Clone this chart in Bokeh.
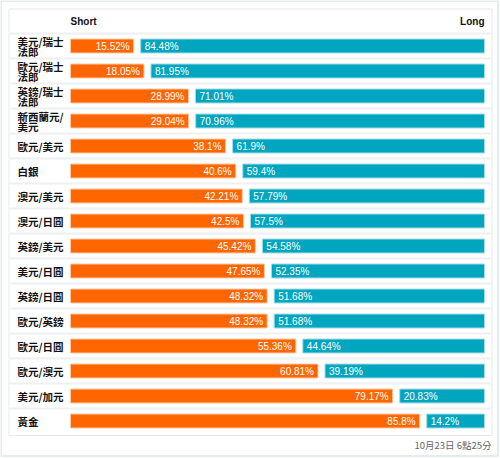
from bokeh.plotting import figure
from bokeh.models import Range1d, ColumnDataSource
from bokeh.core.properties import value
from bokeh.embed import file_html
from bokeh.resources import INLINE

# ---- data ----
labels = ["美元/瑞士\n法郎", "歐元/瑞士\n法郎", "英鎊/瑞士\n法郎", "新西蘭元/\n美元", "歐元/美元", "白銀",
          "澳元/美元", "澳元/日圓", "英鎊/美元", "美元/日圓", "英鎊/日圓", "歐元/英鎊",
          "歐元/日圓", "歐元/澳元", "美元/加元", "黃金"]
short_pct = [15.52, 18.05, 28.99, 29.04, 38.1, 40.6, 42.21, 42.5, 45.42, 47.65, 48.32, 48.32,
             55.36, 60.81, 79.17, 85.8]
long_pct = [84.48, 81.95, 71.01, 70.96, 61.9, 59.4, 57.79, 57.5, 54.58, 52.35, 51.68, 51.68,
            44.64, 39.19, 20.83, 14.2]
short_title = "Short"
long_title = "Long"
timestamp = "10月23日 6點25分"

# ---- layout (pixels) ----
W, H = 500, 458
BAR_LEFT_PX = 70
GAP_PX = 7
UNIT = 4.07           # pixels per percent point
ROW = 25.0            # pixels per row
TOP = 33.0            # pixel y of first data row


def ux(px):
    return (px - BAR_LEFT_PX) / UNIT


def uy(py):
    return (py - TOP) / ROW


gap = GAP_PX / UNIT
n = len(labels)

p = figure(width=W, height=H, output_backend="svg", toolbar_location=None,
           x_range=Range1d(ux(0), ux(W)), y_range=Range1d(uy(H), uy(0)),
           min_border=0, min_border_left=0, min_border_right=0,
           min_border_top=0, min_border_bottom=0)
p.axis.visible = False
p.grid.visible = False
p.outline_line_color = None
p.background_fill_color = "white"
p.border_fill_color = "white"

yc = [i + 0.5 for i in range(n)]
teal_left = [s + gap for s in short_pct]
teal_right = [s + gap + l for s, l in zip(short_pct, long_pct)]

line1, line2, y1, y2 = [], [], [], []
for i, lab in enumerate(labels):
    parts = lab.split("\n")
    if len(parts) == 2:
        line1.append(parts[0]); line2.append(parts[1])
        y1.append(yc[i] - 4.5 / ROW); y2.append(yc[i] + 5.2 / ROW)
    else:
        line1.append(parts[0]); line2.append("")
        y1.append(yc[i]); y2.append(yc[i])

src = ColumnDataSource(dict(
    y=yc, s=short_pct, l=long_pct,
    zero=[0] * n, tl=teal_left, tr=teal_right,
    stxt=[f"{v:g}%" for v in short_pct], ltxt=[f"{v:g}%" for v in long_pct],
    lx=[ux(17)] * n, l1=line1, l2=line2, y1=y1, y2=y2,
))

# outer card border
p.quad(left=ux(0.5), right=ux(497.5), top=uy(0.5), bottom=uy(455.5),
       fill_color=None, line_color="#dde6e8", line_width=1.5)
# table border and row separators
p.quad(left=ux(8.5), right=ux(491.5), top=uy(8.5), bottom=uy(435),
       fill_color=None, line_color="#e6eaeb", line_width=1)
p.segment(x0=[ux(9)] * n, x1=[ux(491)] * n, y0=list(range(n)), y1=list(range(n)),
          line_color="#eef0f1", line_width=2)

# bars
bh = 14 / ROW
p.hbar(y="y", left="zero", right="s", height=bh, source=src,
       fill_color="#ff6600", line_color="#ffc9a6", line_width=1)
p.hbar(y="y", left="tl", right="tr", height=bh, source=src,
       fill_color="#00a6bf", line_color="#a6dce5", line_width=1)

# value labels
p.text(x="s", y="y", text="stxt", source=src, text_align="right", text_baseline="middle",
       x_offset=-4, text_color="white", text_font_size="10px",
       text_font=value("Liberation Sans"))
p.text(x="tl", y="y", text="ltxt", source=src, text_align="left", text_baseline="middle",
       x_offset=4, text_color="white", text_font_size="10px",
       text_font=value("Liberation Sans"))

# row labels
for col, ycol in (("l1", "y1"), ("l2", "y2")):
    p.text(x="lx", y=ycol, text=col, source=src, text_align="left", text_baseline="middle",
           text_color="#111111", text_font_size="10.5px", text_font_style="bold",
           text_font=value("Noto Sans CJK TC"))

# header
p.text(x=[0], y=[uy(20.5)], text=[short_title], text_align="left", text_baseline="middle",
       text_color="#111111", text_font_size="10px", text_font_style="bold",
       text_font=value("Liberation Sans"))
p.text(x=[100 + gap], y=[uy(20.5)], text=[long_title], text_align="right", text_baseline="middle",
       text_color="#111111", text_font_size="10px", text_font_style="bold",
       text_font=value("Liberation Sans"))

# timestamp
p.text(x=[ux(491)], y=[uy(444.5)], text=[timestamp], text_align="right",
       text_baseline="middle", text_color="#666666", text_font_size="9.5px",
       text_font=value("Noto Sans CJK TC"))

open("out.html", "w").write(file_html(p, INLINE))
